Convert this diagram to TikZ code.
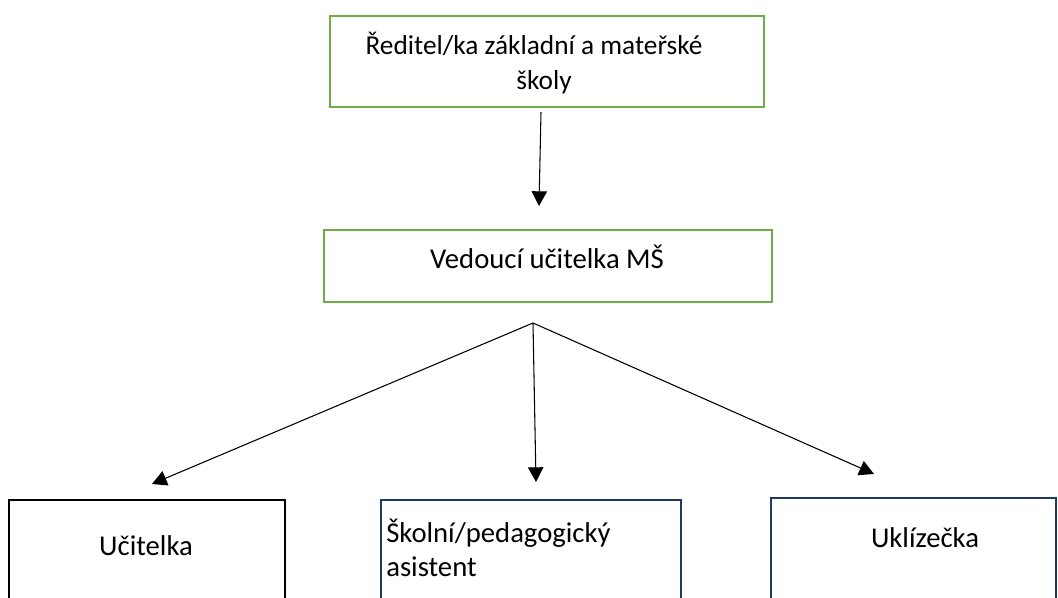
\documentclass[tikz,border=0pt]{standalone}
\usepackage{fontspec}
\setmainfont{Carlito}
\usetikzlibrary{arrows.meta}
\definecolor{boxgreen}{HTML}{70AD47}
\definecolor{boxnavy}{HTML}{1F3864}
\begin{document}
\begin{tikzpicture}[x=0.75pt,y=-0.75pt,
  txt/.style={font=\fontsize{21.5}{26}\selectfont, inner sep=0pt},
  toptxt/.style={font=\fontsize{20.5}{26.5}\selectfont, inner sep=0pt},
  greenbox/.style={draw=boxgreen, line width=1.6pt, inner sep=0pt, anchor=north west},
  navybox/.style={draw=boxnavy, line width=1.3pt, inner sep=0pt, anchor=north west},
  blackbox/.style={draw=black, line width=1.5pt, inner sep=0pt, anchor=north west},
  conn/.style={draw=black, line width=0.8pt, -{Triangle[length=11pt,width=11.5pt]}}]
\useasboundingbox (0,0) rectangle (1058,598);
\clip (0,0) rectangle (1058,598);
% top and middle boxes
\node[greenbox, minimum width=434*0.75pt, minimum height=91*0.75pt] (dir) at (329,15) {};
\node[toptxt, align=center, anchor=base] (dirtxt) at (544,90) {Ředitel/ka základní a mateřské\hspace*{15pt}\\školy};
\node[greenbox, minimum width=448*0.75pt, minimum height=72*0.75pt] (ved) at (323,229) {};
\node[txt, anchor=base] (vedtxt) at (547,269) {Vedoucí učitelka MŠ};
% bottom boxes (cut off by page)
\node[blackbox, minimum width=276*0.75pt, minimum height=140*0.75pt] (uc) at (8,499) {};
\node[txt, anchor=base] (uctxt) at (146,556) {Učitelka};
\node[navybox, minimum width=300*0.75pt, minimum height=140*0.75pt] (as) at (380,499) {};
\node[txt, align=left, anchor=base west] (astxt) at (386,577) {Školní/pedagogický\\asistent};
\node[navybox, minimum width=285*0.75pt, minimum height=140*0.75pt] (uk) at (770,497) {};
\node[txt, anchor=base] (uktxt) at (925,548) {Uklízečka};
% connectors
\coordinate (topstart) at (541,112);
\coordinate (topend) at (539,206);
\coordinate (apex) at (533,323);
\coordinate (tipuc) at (152,484);
\coordinate (tipas) at (536,482);
\coordinate (tipuk) at (874,474);
\draw[conn] (topstart) -- (topend);
\draw[conn] (apex) -- (tipuc);
\draw[conn] (apex) -- (tipas);
\draw[conn] (apex) -- (tipuk);
\end{tikzpicture}
\end{document}
